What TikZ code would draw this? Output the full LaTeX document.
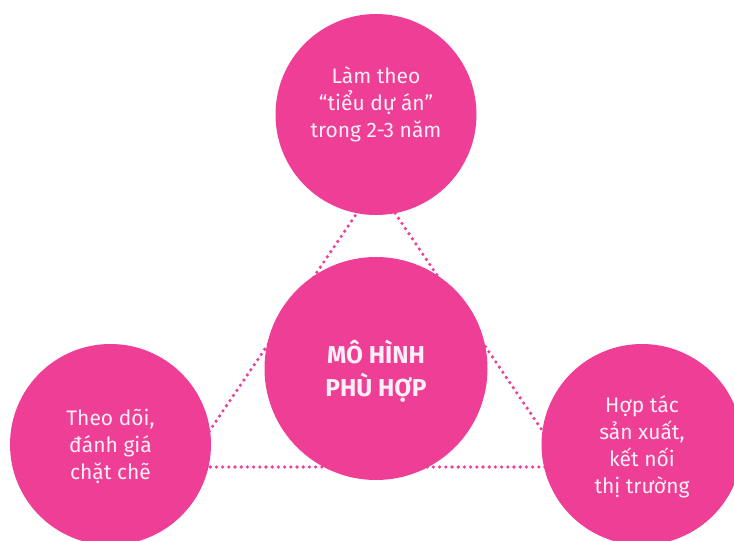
\documentclass[tikz,border=0pt]{standalone}
\usepackage{fontspec}
\setmainfont{Fira Sans}
\definecolor{pinkc}{RGB}{238,62,150}
\definecolor{txtc}{RGB}{255,240,246}
\begin{document}
\begin{tikzpicture}[x=1pt,y=-1pt,
  dotline/.style={draw=pinkc, line width=3.6pt, line cap=round, dash pattern=on 0pt off 6.2pt},
  bub/.style={circle, fill=pinkc, inner sep=0pt},
  txt/.style={align=center, text=txtc, font=\fontsize{21}{27}\selectfont},
  ctxt/.style={align=center, text=txtc, font=\fontsize{24.5}{33}\selectfont\bfseries}]
\useasboundingbox (0,0) rectangle (734,541);
\clip (0,0) rectangle (734,541);
\coordinate (A) at (376,185);
\coordinate (B) at (185,467);
\coordinate (C) at (567,467);
\draw[dotline] (A) -- (B) -- (C) -- cycle;
\node[bub, minimum size=201pt] (top) at (376,114.5) {};
\node[bub, minimum size=223pt] (mid) at (376,368.5) {};
\node[bub, minimum size=201pt] (left) at (110.5,444.5) {};
\node[bub, minimum size=201pt] (right) at (642,444.5) {};
\node[txt] (toptxt) at (376,104) {Làm theo\\“tiểu dự án”\\trong 2-3 năm};
\node[ctxt] (midtxt) at (376,371) {MÔ HÌNH\\PHÙ HỢP};
\node[txt] (lefttxt) at (110.5,446) {Theo dõi,\\đánh giá\\chặt chẽ};
\node[txt] (righttxt) at (642,447) {Hợp tác\\sản xuất,\\kết nối\\thị trường};
\end{tikzpicture}
\end{document}
